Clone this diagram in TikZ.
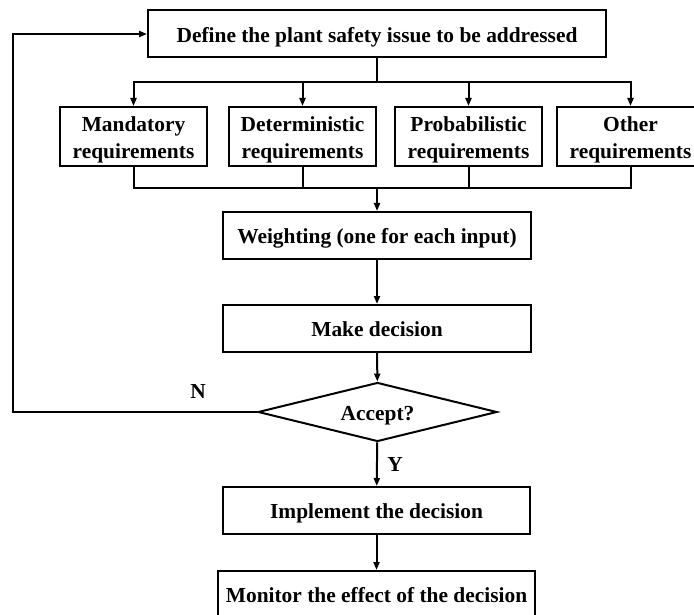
\documentclass[tikz,border=0pt]{standalone}
\usepackage{fontspec}
\setmainfont{Liberation Serif}
\usetikzlibrary{arrows.meta,shapes.geometric}

% lines of a box label, set a little low so the letters sit centred
\newcommand{\boxlines}[1]{\raisebox{-3pt}[\height][\depth]{%
  \begin{tabular}{@{}c@{}}#1\end{tabular}}}

\tikzset{
  txt/.style={font=\bfseries\fontsize{21.4}{27}\selectfont},
  stepbox/.style={txt, draw, line width=2pt, rectangle, inner sep=0pt,
    minimum height=47pt},
  reqbox/.style={stepbox, minimum width=147pt, minimum height=59pt},
  decbox/.style={txt, draw, line width=2pt, diamond, inner sep=0pt,
    aspect=4, minimum width=239pt, minimum height=59pt},
  conn/.style={line width=2pt},
  arr/.style={conn, -{Triangle[length=8pt,width=6pt]}},
}

\begin{document}
\begin{tikzpicture}[x=1pt,y=-1pt]
  \useasboundingbox (0,0) rectangle (694,615);

  % process steps
  \node[stepbox, minimum width=458pt] (define) at (377,34)
    {\boxlines{Define the plant safety issue to be addressed}};
  \node[reqbox] (mand) at (133.5,136.5) {\boxlines{Mandatory\\requirements}};
  \node[reqbox] (det)  at (302.5,136.5) {\boxlines{Deterministic\\requirements}};
  \node[reqbox] (prob) at (468.5,136.5) {\boxlines{Probabilistic\\requirements}};
  \node[reqbox] (other) at (630.5,136.5) {\boxlines{Other\\requirements}};
  \node[stepbox, minimum width=308pt] (weight) at (377,235.5)
    {\boxlines{Weighting (one for each input)}};
  \node[stepbox, minimum width=308pt] (decide) at (377,328.5)
    {\boxlines{Make decision}};
  \node[decbox] (accept) at (377.5,412) {\boxlines{Accept?}};
  \node[stepbox, minimum width=307pt] (implement) at (376.5,510.5)
    {\boxlines{Implement the decision}};
  \node[stepbox, minimum width=317pt] (monitor) at (376.5,594.5)
    {\boxlines{Monitor the effect of the decision}};

  % branch and merge points
  \coordinate (split) at (377,82);
  \coordinate (join) at (377,188);
  \coordinate (loop) at (13,412);

  % fan out to the four kinds of requirement
  \draw[conn] (define.south) -- (split);
  \draw[arr] (split) -| (mand.north);
  \draw[arr] (split) -| (det.north);
  \draw[arr] (split) -| (prob.north);
  \draw[arr] (split) -| (other.north);

  % gather them again
  \draw[conn] (mand.south) |- (join);
  \draw[conn] (det.south) |- (join);
  \draw[conn] (prob.south) |- (join);
  \draw[conn] (other.south) |- (join);
  \draw[arr] (join) -- (weight.north);

  % main sequence
  \draw[arr] (weight) -- (decide);
  \draw[arr] (decide) -- (accept);
  \draw[arr] (accept) -- (implement);
  \draw[arr] (implement) -- (monitor);

  % rejection loops back to the start
  \draw[arr] (accept.west) -- (loop) |- (define.west);

  % decision labels
  \node[txt] (nlabel) at (198,391) {N};
  \node[txt] (ylabel) at (395,464) {Y};
\end{tikzpicture}
\end{document}
